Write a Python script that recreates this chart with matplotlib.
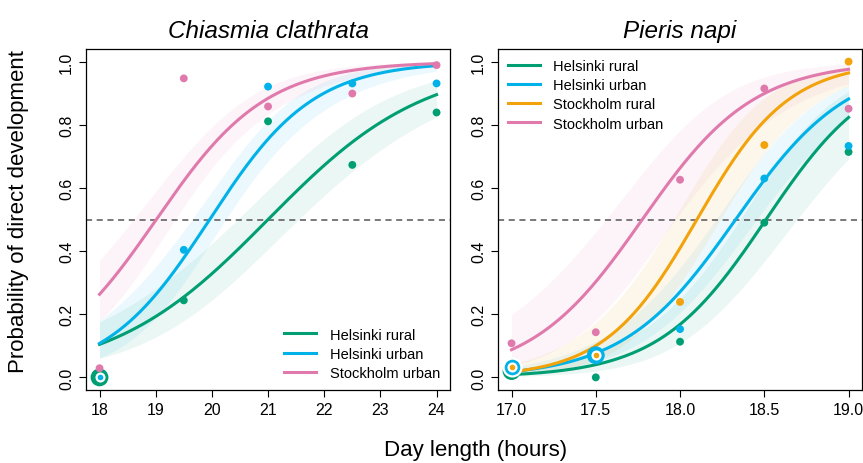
import numpy as np
import matplotlib
matplotlib.use("Agg")
import matplotlib.pyplot as plt

plt.rcParams["font.family"] = ["Liberation Sans", "DejaVu Sans"]

# colours per population
GREEN = "#009E73"
BLUE = "#00B2E8"
ORANGE = "#F2A20A"
PINK = "#E07AAD"

# ---------- Chiasmia clathrata ----------
cc_days = [18, 19.5, 21, 22.5, 24]
cc_groups = ["Helsinki rural", "Helsinki urban", "Stockholm urban"]
cc_colors = [GREEN, BLUE, PINK]
cc_hr_obs = [0.0, 0.244, 0.811, 0.673, 0.839]
cc_hu_obs = [0.0, 0.404, 0.921, 0.931, 0.931]
cc_su_obs = [0.029, 0.947, 0.858, 0.899, 0.989]
# logistic fit: 50% day length and slope (logit per hour)
cc_mid = [21.0, 19.96, 19.01]
cc_slope = [0.716, 1.08, 1.02]
# 95% band half width on the logit scale at first / middle / last day length
cc_band = [[0.60, 0.38, 0.60], [0.60, 0.35, 0.90], [0.50, 0.42, 0.95]]

# ---------- Pieris napi ----------
pn_days = [17.0, 17.5, 18.0, 18.5, 19.0]
pn_groups = ["Helsinki rural", "Helsinki urban", "Stockholm rural", "Stockholm urban"]
pn_colors = [GREEN, BLUE, ORANGE, PINK]
pn_hr_obs = [0.020, 0.0, 0.113, 0.490, 0.714]
pn_hu_obs = [0.033, 0.070, 0.153, 0.630, 0.733]
pn_sr_obs = [0.033, 0.071, 0.239, 0.736, 1.0]
pn_su_obs = [0.108, 0.143, 0.626, 0.915, 0.851]
pn_mid = [18.51, 18.33, 18.10, 17.776]
pn_slope = [3.14, 3.0, 3.66, 3.02]
pn_band = [[1.0, 0.5, 0.73], [0.6, 0.36, 0.5], [0.9, 0.5, 0.8], [0.95, 0.6, 1.1]]


def inv_logit(eta):
    return 1.0 / (1.0 + np.exp(-eta))


def draw_panel(ax, title, days, groups, colors, obs, mids, slopes, bands,
               xticks, xticklabels, legend_loc):
    lo, hi = days[0], days[-1]
    xs = np.linspace(lo, hi, 200)
    xm = 0.5 * (lo + hi)

    # confidence bands
    for col, mid, b, hw in zip(colors, mids, slopes, bands):
        var = np.polyfit([lo, xm, hi], np.square(hw), 2)
        half = np.sqrt(np.polyval(var, xs))
        eta = b * (xs - mid)
        ax.fill_between(xs, inv_logit(eta - half), inv_logit(eta + half),
                        color=col, alpha=0.08, lw=0)

    ax.axhline(0.5, color="#555555", lw=1.1, ls=(0, (4, 3)), zorder=2)

    for g, col, mid, b in zip(groups, colors, mids, slopes):
        ax.plot(xs, inv_logit(b * (xs - mid)), color=col, lw=2.2, label=g,
                zorder=3)

    # observed proportions; coinciding points get drawn as rings
    for gi, (col, ys) in enumerate(zip(colors, obs)):
        for xi, (x, y) in enumerate(zip(days, ys)):
            later = any(abs(o[xi] - y) < 0.015 for o in obs[gi + 1:])
            earlier = any(abs(o[xi] - y) < 0.015 for o in obs[:gi])
            size = 165 if later else 32
            edge = "white" if earlier else "none"
            ax.scatter([x], [y], s=size, color=col, edgecolors=edge,
                       linewidths=1.6, zorder=4 + gi)

    ax.set_xlim(lo - 0.04 * (hi - lo), hi + 0.04 * (hi - lo))
    ax.set_ylim(-0.04, 1.04)
    ax.set_xticks(xticks)
    ax.set_xticklabels(xticklabels)
    ax.set_yticks([0.0, 0.2, 0.4, 0.6, 0.8, 1.0])
    ax.set_yticklabels(["0.0", "0.2", "0.4", "0.6", "0.8", "1.0"],
                       rotation=90, va="center")
    ax.tick_params(labelsize=11.5, length=5, width=0.8, direction="out")
    for sp in ax.spines.values():
        sp.set_linewidth(0.9)
    ax.set_title(title, style="italic", fontsize=17.5, pad=9)
    ax.legend(loc=legend_loc, frameon=False, fontsize=10.5, handlelength=2.2,
              handletextpad=0.9, labelspacing=0.35, borderaxespad=0.3)


fig = plt.figure(figsize=(8.63, 4.64), dpi=100)
ax1 = fig.add_axes([0.0997, 0.1573, 0.4218, 0.7349])
ax2 = fig.add_axes([0.5771, 0.1573, 0.4218, 0.7349])

draw_panel(ax1, "Chiasmia clathrata", cc_days, cc_groups, cc_colors,
           [cc_hr_obs, cc_hu_obs, cc_su_obs], cc_mid, cc_slope, cc_band,
           [18, 19, 20, 21, 22, 23, 24],
           ["18", "19", "20", "21", "22", "23", "24"], "lower right")
draw_panel(ax2, "Pieris napi", pn_days, pn_groups, pn_colors,
           [pn_hr_obs, pn_hu_obs, pn_sr_obs, pn_su_obs], pn_mid, pn_slope,
           pn_band, pn_days, ["17.0", "17.5", "18.0", "18.5", "19.0"],
           "upper left")

fig.text(0.022, 0.545, "Probability of direct development", rotation=90,
         ha="center", va="center", fontsize=16)
fig.text(0.551, 0.03, "Day length (hours)", ha="center", va="center",
         fontsize=16)

fig.savefig("out.png", dpi=100)
